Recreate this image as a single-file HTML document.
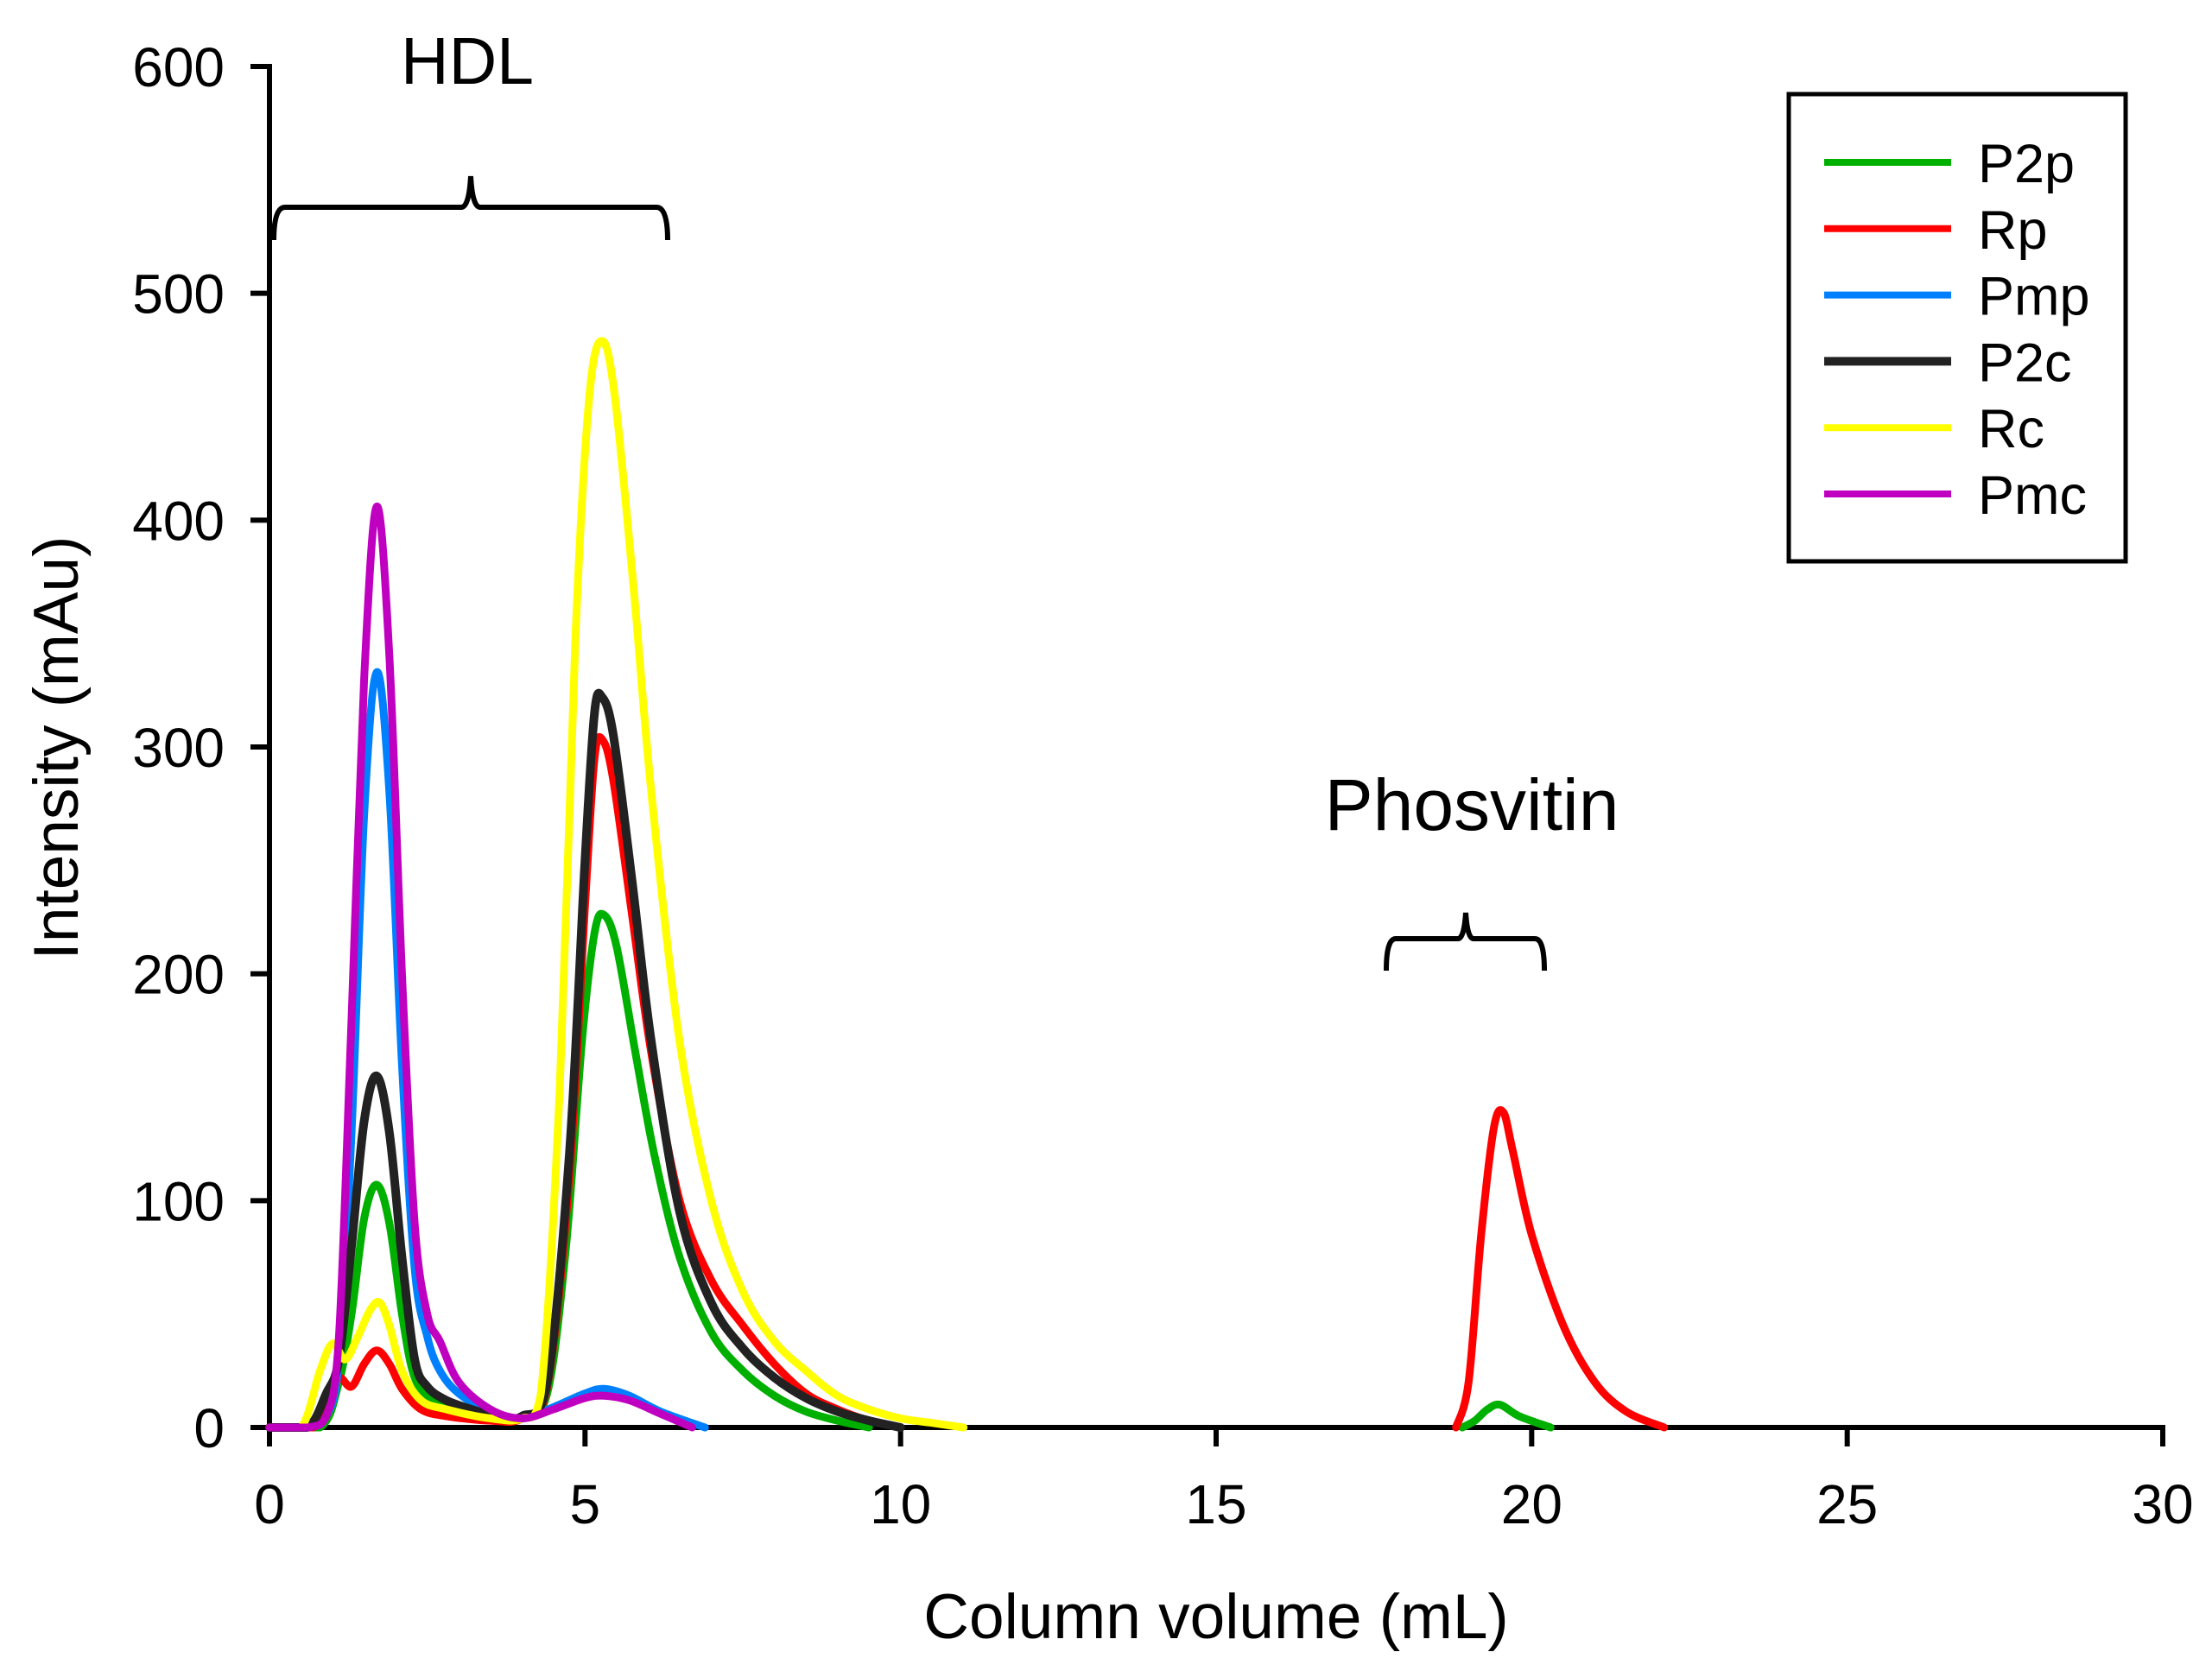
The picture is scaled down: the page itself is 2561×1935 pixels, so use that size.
<!DOCTYPE html>
<html><head><meta charset="utf-8"><style>
html,body{margin:0;padding:0;background:#fff;}
svg{display:block;font-family:"Liberation Sans",Arial,sans-serif;}
</style></head><body>
<svg id="chart" width="2561" height="1935" viewBox="0 0 2561 1935" xmlns="http://www.w3.org/2000/svg">
<g id="axes"></g>
<g id="series"></g>
<g>
<text x="541" y="97" font-size="77" text-anchor="middle">HDL</text>
<path d="M317,278 Q317,240 330,240 L534,240 Q543,240 545,204 Q547,240 556,240 L760,240 Q773,240 773,278" fill="none" stroke="#000" stroke-width="6"/>
</g>
<g>
<text x="1704" y="961" font-size="84" text-anchor="middle">Phosvitin</text>
<path d="M1605,1124 Q1605,1087 1616,1087 L1688,1087 Q1695,1087 1697,1057 Q1699,1087 1706,1087 L1777,1087 Q1788,1087 1788,1124" fill="none" stroke="#000" stroke-width="6"/>
</g>
<g id="legend">
<rect x="2071" y="109" width="390" height="541" fill="#fff" stroke="#000" stroke-width="5"/>
</g>
</svg>
<script>
const xTicks=[0,5,10,15,20,25,30];
const yTicks=[0,100,200,300,400,500,600];
const seriesNames=["P2p","Rp","Pmp","P2c","Rc","Pmc"];
const seriesColors=["#00b000","#ff0000","#0080ff","#222222","#ffff00","#c000c0"];
const p2pX=[0,0.8,1.1,1.3,1.5,1.7,1.9,2.1,2.3,2.6,3,3.5,4,4.4,4.7,4.95,5.15,5.3,5.5,5.8,6.1,6.5,7,7.5,8,8.5,9,9.5];
const p2pY=[0,0,20,50,92,107,90,50,22,12,8,4,4,15,80,170,218,226,212,165,120,75,42,25,14,7,3,0];
const p2p2X=[18.9,19.1,19.3,19.5,19.8,20.3];
const p2p2Y=[0,3,8,10,5,0];
const rpX=[0,0.7,0.9,1.1,1.3,1.5,1.7,1.9,2.1,2.4,2.8,3.5,4,4.4,4.75,5.0,5.15,5.28,5.45,5.75,6.05,6.5,7,7.5,8,8.5,9,9.5,10];
const rpY=[0,0,15,22,18,28,34,28,17,8,5,3,4,18,110,230,295,303,285,225,165,100,65,45,28,15,8,3,0];
const rp2X=[18.8,19.0,19.2,19.4,19.55,19.7,20.0,20.5,21,21.5,22.1];
const rp2Y=[0,20,85,132,139,122,85,45,20,7,0];
const pmpX=[0,0.6,0.9,1.1,1.3,1.5,1.7,1.9,2.1,2.3,2.5,2.7,3,3.5,4,4.5,5,5.3,5.7,6.2,6.9];
const pmpY=[0,0,5,30,130,270,333,280,160,70,40,25,15,7,4,9,15,17,14,7,0];
const p2cX=[0,0.6,0.9,1.1,1.3,1.5,1.7,1.9,2.1,2.3,2.5,2.8,3.2,3.6,4,4.4,4.75,5.0,5.15,5.27,5.45,5.75,6.05,6.5,7,7.5,8,8.5,9,9.5,10];
const p2cY=[0,0,15,30,80,135,155,130,75,30,18,12,8,5,5,20,120,250,315,322,305,240,170,95,55,35,22,13,7,3,0];
const rcX=[0,0.5,0.8,1,1.2,1.4,1.6,1.75,1.9,2.1,2.4,2.8,3.5,4,4.3,4.6,4.85,5.07,5.27,5.47,5.77,6.05,6.5,7,7.5,8,8.5,9,9.5,10,10.5,11];
const rcY=[0,0,25,37,30,40,52,55,45,25,12,8,4,4,15,150,350,455,479,455,370,280,170,100,60,38,25,14,8,4,2,0];
const pmcX=[0,0.6,0.9,1.1,1.3,1.5,1.7,1.9,2.1,2.3,2.5,2.7,3,3.5,4,4.5,5,5.3,5.7,6.2,6.7];
const pmcY=[0,0,5,40,180,330,406,340,200,90,50,38,20,8,4,8,13,14,12,6,0];

const NS="http://www.w3.org/2000/svg";
const X0=312,X1=2504,Y0=1653,Y1=77;
function sx(v){return X0+(v-0)/(30-0)*(X1-X0);}
function sy(v){return Y0-(v-0)/(600-0)*(Y0-Y1);}
function mk(tag,attrs,parent){const e=document.createElementNS(NS,tag);for(const k in attrs)e.setAttribute(k,attrs[k]);parent.appendChild(e);return e;}
const axes=document.getElementById('axes');
let e;
e=mk('line',{x1:X0,y1:Y1-3,x2:X0,y2:Y0+3,stroke:'#000','stroke-width':6},axes);


e=mk('line',{x1:X0-3,y1:Y0,x2:X1+3,y2:Y0,stroke:'#000','stroke-width':6},axes);


yTicks.forEach(t=>{
  const l=mk('line',{x1:X0-22,y1:sy(t),x2:X0,y2:sy(t),stroke:'#000','stroke-width':6},axes);
  
  
  const tx=mk('text',{x:X0-52,y:sy(t)+23,'font-size':64,'text-anchor':'end'},axes);
  tx.textContent=t;
  
  
});
xTicks.forEach(t=>{
  const l=mk('line',{x1:sx(t),y1:Y0,x2:sx(t),y2:Y0+22,stroke:'#000','stroke-width':6},axes);
  
  
  const tx=mk('text',{x:sx(t),y:1764,'font-size':64,'text-anchor':'middle'},axes);
  tx.textContent=t;
  
  
});
e=mk('text',{x:1408,y:1897,'font-size':73,'text-anchor':'middle'},axes);
e.textContent='Column volume (mL)';


e=mk('text',{x:0,y:0,'font-size':73,'text-anchor':'middle',transform:'translate(90,866) rotate(-90)'},axes);
e.textContent='Intensity (mAu)';



function pathFor(xs,ys){
  const p=xs.map((x,i)=>[sx(x),sy(ys[i])]);
  let d='M'+p[0][0].toFixed(1)+','+p[0][1].toFixed(1);
  for(let i=0;i<p.length-1;i++){
    const p0=p[Math.max(0,i-1)],p1=p[i],p2=p[i+1],p3=p[Math.min(p.length-1,i+2)];
    const c1=[p1[0]+(p2[0]-p0[0])/6,p1[1]+(p2[1]-p0[1])/6];
    const c2=[p2[0]-(p3[0]-p1[0])/6,p2[1]-(p3[1]-p1[1])/6];
    c1[1]=Math.min(c1[1],Y0);c2[1]=Math.min(c2[1],Y0);
    d+=' C'+c1.map(v=>v.toFixed(1)).join(',')+' '+c2.map(v=>v.toFixed(1)).join(',')+' '+p2[0].toFixed(1)+','+p2[1].toFixed(1);
  }
  return d;
}
const sg=document.getElementById('series');
const segs=[[p2pX,p2pY,0],[p2p2X,p2p2Y,0],[rpX,rpY,1],[rp2X,rp2Y,1],[pmpX,pmpY,2],[p2cX,p2cY,3],[rcX,rcY,4],[pmcX,pmcY,5]];
segs.forEach(s=>{
  const pth=mk('path',{d:pathFor(s[0],s[1]),fill:'none',stroke:seriesColors[s[2]],'stroke-width':s[2]===3?10:9,'stroke-linejoin':'round','stroke-linecap':'round'},sg);
  
  
});
const lg=document.getElementById('legend');
seriesNames.forEach((n,i)=>{
  const y=188+i*76.8;
  const l=mk('line',{x1:2112,y1:y,x2:2259,y2:y,stroke:seriesColors[i],'stroke-width':i===3?10:8},lg);
  
  
  const t=mk('text',{x:2290,y:y+23,'font-size':63},lg);
  t.textContent=n;
  
  
});
</script>
</body></html>
